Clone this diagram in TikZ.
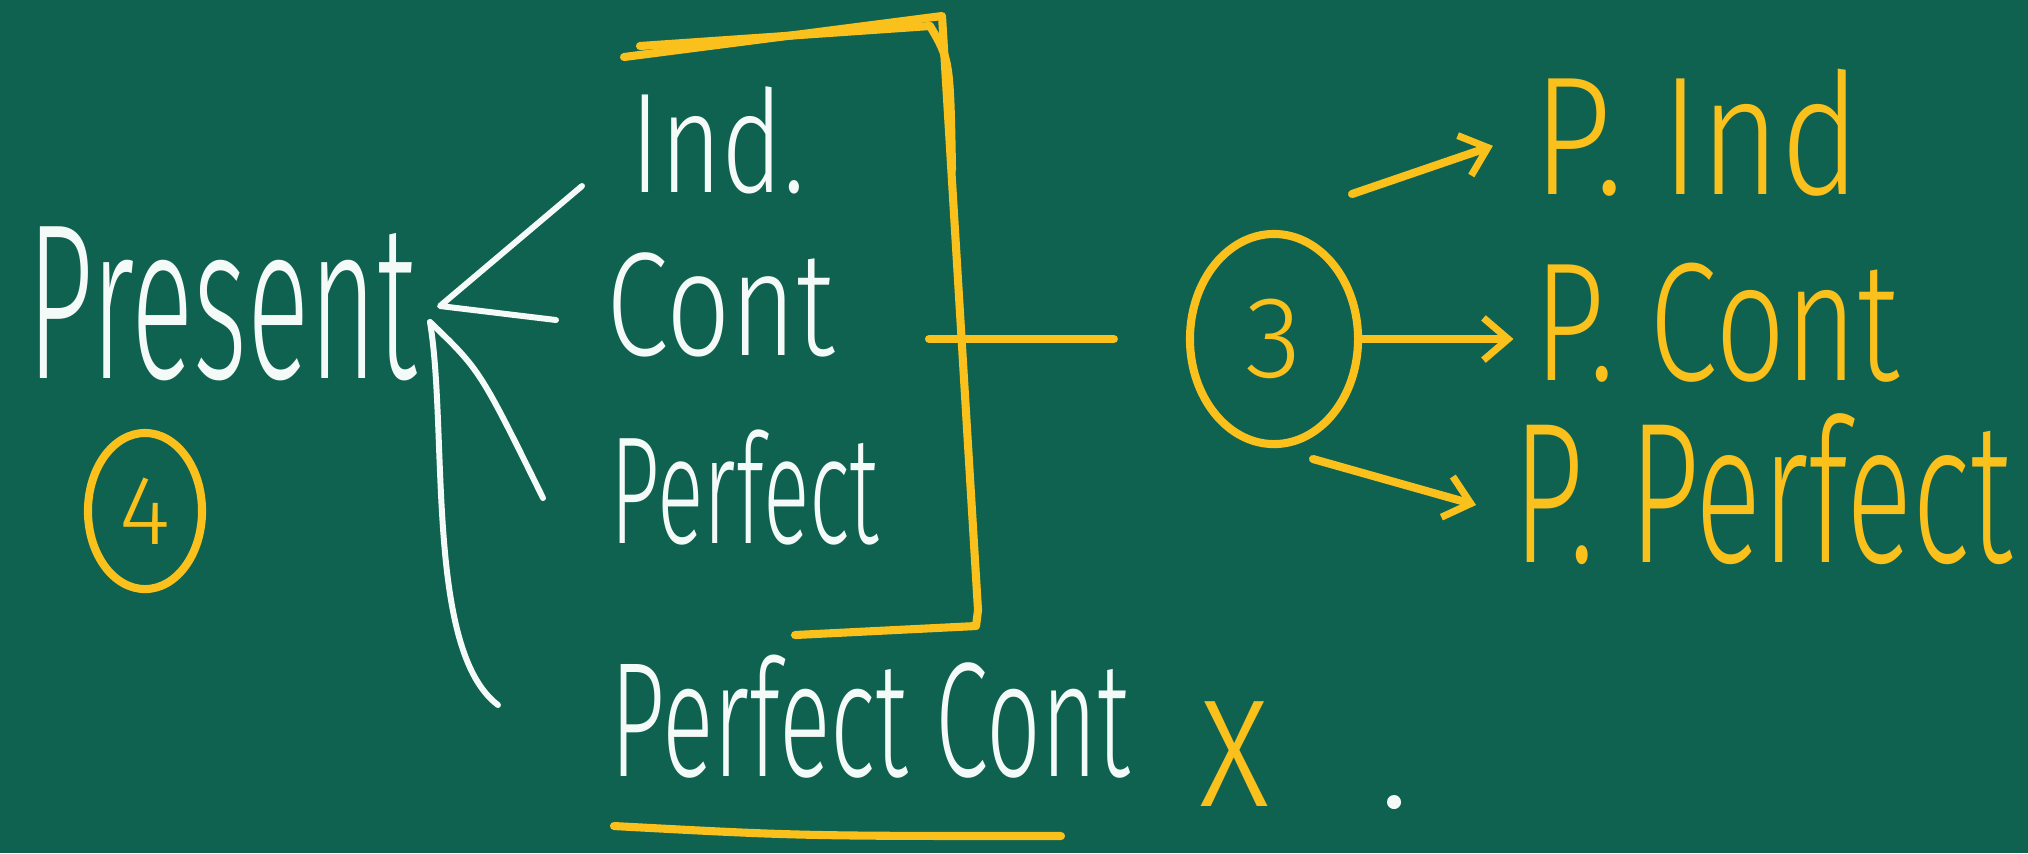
\documentclass[tikz,border=0pt]{standalone}
\usepackage{fontspec}
\setmainfont{Fira Sans}[UprightFont=* Light]
\usetikzlibrary{arrows.meta,positioning,shapes.geometric}
\definecolor{boardBg}{RGB}{15,98,80}
\definecolor{chalkYellow}{RGB}{250,192,28}
\definecolor{chalkWhite}{RGB}{244,250,247}
\newcommand{\chalk}[3]{\scalebox{#1}[#2]{#3}}

\tikzset{
  wword/.style={text=chalkWhite,font=\fontsize{30}{30}\selectfont,inner sep=0pt,anchor=base},
  yword/.style={wword,text=chalkYellow},
  wline/.style={draw=chalkWhite,line width=1.7pt,line cap=round,line join=round},
  yline/.style={draw=chalkYellow,line width=2.3pt,line cap=round,line join=round},
  yarrow/.style={yline,-{Straight Barb[length=7pt,width=12pt,line width=2pt]}},
  yring/.style={ellipse,draw=chalkYellow,line width=2.3pt,text=chalkYellow,inner sep=0pt}
}

\begin{document}
\begin{tikzpicture}[x=0.01cm,y=-0.01cm]
  \fill[boardBg] (0,0) rectangle (2028,853);

  % left side
  \node[wword] (present) at (222,378) {\chalk{1.1}{2.1}{Present}};
  \node[yring,minimum width=1.14cm,minimum height=1.56cm] (four) at (145,511)
    {\fontsize{28}{28}\selectfont 4};

  % the four forms
  \node[wword] (ind) at (718,192) {\chalk{1}{1.35}{Ind.}};
  \node[wword] (cont) at (721,355) {\chalk{1.07}{1.4}{Cont}};
  \node[wword] (perf) at (745,543) {\chalk{0.82}{1.45}{Perfect}};
  \node[wword] (perfcont) at (870,776) {\chalk{0.91}{1.55}{Perfect Cont}};
  \node[yword] (cross) at (1235,806) {\chalk{1.45}{1.9}{x}};

  % fork out of Present
  \coordinate (forkTip) at (440,306);
  \coordinate (forkLow) at (430,322);
  \coordinate (indEnd) at (582,186);
  \coordinate (contEnd) at (556,320);
  \coordinate (perfEnd) at (543,498);
  \coordinate (pcEnd) at (498,705);
  \draw[wline] (indEnd) -- (forkTip) -- (contEnd);
  \draw[wline] (forkLow) .. controls (480,370) .. (perfEnd);
  \draw[wline] (forkLow) .. controls (448,430) and (425,650) .. (pcEnd);

  % bracket round the three forms
  \draw[yline] (624,57) -- (942,16) -- (978,610) -- (976,626) -- (795,635);
  \draw[yline] (640,46) -- (930,26) .. controls (950,60) .. (952,170);
  \draw[yline] (614,826) .. controls (800,836) .. (1061,836);

  % three tenses
  \node[yring,minimum width=1.68cm,minimum height=2.1cm] (three) at (1274,339)
    {\fontsize{33}{33}\selectfont 3};
  \coordinate (brMid) at (929,339);
  \draw[yline] (brMid) -- ([xshift=-0.72cm]three.west);

  \node[yword] (pind) at (1697,194) {\chalk{1.3}{1.6}{P. Ind}};
  \node[yword] (pcont) at (1717,380) {\chalk{1.17}{1.6}{P. Cont}};
  \node[yword] (pperf) at (1763,562) {\chalk{1.17}{1.9}{P. Perfect}};

  \coordinate (upStart) at (1352,194);
  \coordinate (lowStart) at (1313,459);
  \coordinate (lowTip) at (1476,505);
  \draw[yarrow,shorten >=0.42cm] (upStart) -- (pind.west);
  \draw[yarrow,shorten >=0.2cm] (three.east) -- (three.east -| pcont.west);
  \draw[yarrow] (lowStart) -- (lowTip);

  \fill[chalkWhite] (1394,802) circle (2pt);
\end{tikzpicture}
\end{document}
